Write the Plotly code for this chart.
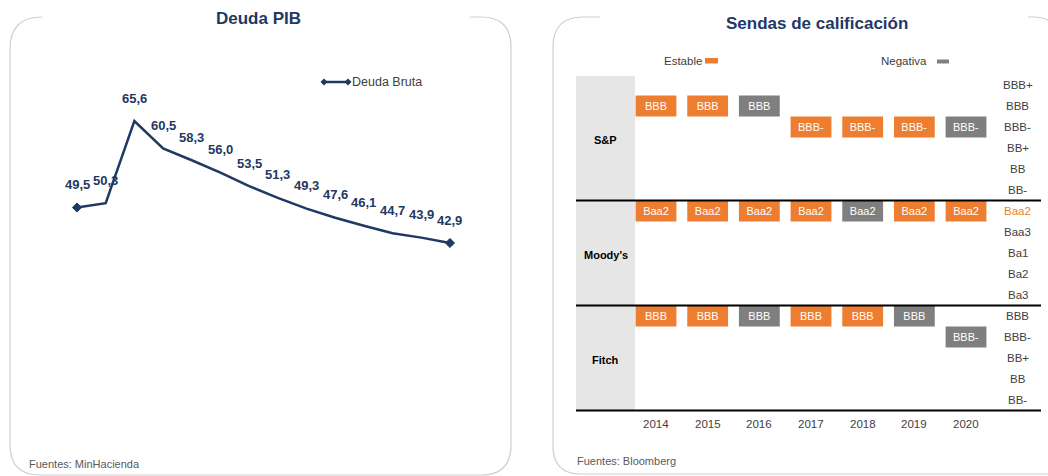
import plotly.graph_objects as go

# ---------------- DATA ----------------
deuda_periodo = list(range(14))
deuda_bruta = [49.5, 50.3, 65.6, 60.5, 58.3, 56.0, 53.5, 51.3, 49.3, 47.6, 46.1, 44.7, 43.9, 42.9]

years = [2014, 2015, 2016, 2017, 2018, 2019, 2020]
agencies = ["S&P", "Moody's", "Fitch"]
scale_sp = ["BBB+", "BBB", "BBB-", "BB+", "BB", "BB-"]
scale_moodys = ["Baa2", "Baa3", "Ba1", "Ba2", "Ba3"]
scale_fitch = ["BBB", "BBB-", "BB+", "BB", "BB-"]
rating_sp = ["BBB", "BBB", "BBB", "BBB-", "BBB-", "BBB-", "BBB-"]
outlook_sp = ["Estable", "Estable", "Negativa", "Estable", "Estable", "Estable", "Negativa"]
rating_moodys = ["Baa2", "Baa2", "Baa2", "Baa2", "Baa2", "Baa2", "Baa2"]
outlook_moodys = ["Estable", "Estable", "Estable", "Estable", "Negativa", "Estable", "Estable"]
rating_fitch = ["BBB", "BBB", "BBB", "BBB", "BBB", "BBB", "BBB-"]
outlook_fitch = ["Estable", "Estable", "Negativa", "Estable", "Estable", "Negativa", "Negativa"]
highlighted = {"Moody's": "Baa2"}

# ---------------- STYLE / LAYOUT HELPERS ----------------
W, H = 1048, 476
FONT = "Liberation Sans, Arial, sans-serif"
NAVY = "#1F3864"
ORANGE = "#ED7D31"
GRAY = "#7F7F7F"
TXT = "#404040"

def fx(px):
    return px / W

def fy(py):
    return 1 - py / H

def rng(p_lo, p_hi, p0, v0, s):
    return [v0 + (p_lo - p0) / s, v0 + (p_hi - p0) / s]

fig = go.Figure()

# ---------------- LEFT: Deuda PIB ----------------
X1_PX = (20, 500)
Y1_PX = (40, 440)
x1_range = rng(X1_PX[0], X1_PX[1], 77, 0, 28.69)
y1_range = rng(Y1_PX[1], Y1_PX[0], 243, 42.9, -5.374)

msize = [0] * len(deuda_bruta)
msize[0] = 7
msize[-1] = 7
fig.add_trace(go.Scatter(
    x=deuda_periodo, y=deuda_bruta, mode="lines+markers",
    line=dict(color=NAVY, width=2.5),
    marker=dict(symbol="diamond", size=msize, color=NAVY, opacity=1,
                line=dict(color=NAVY, width=1)),
    xaxis="x", yaxis="y", showlegend=False, hoverinfo="skip",
))
annotations = []
for xi, v in zip(deuda_periodo, deuda_bruta):
    annotations.append(dict(
        x=xi, y=v, xref="x", yref="y", text="<b>" + f"{v:.1f}".replace(".", ",") + "</b>",
        showarrow=False, yshift=23, font=dict(family=FONT, size=13, color=NAVY),
    ))

# ---------------- RIGHT: Sendas de calificacion ----------------
scales = {"S&P": scale_sp, "Moody's": scale_moodys, "Fitch": scale_fitch}
ratings = {"S&P": rating_sp, "Moody's": rating_moodys, "Fitch": rating_fitch}
outlooks = {"S&P": outlook_sp, "Moody's": outlook_moodys, "Fitch": outlook_fitch}

offsets = {}
off = 0
for a in agencies:
    offsets[a] = off
    off += len(scales[a])
n_slots = off

X2_PX = (560, 1046)
Y2_PX = (50, 440)
x2_range = rng(X2_PX[0], X2_PX[1], 656, 2014, 51.67)
y2_range = rng(Y2_PX[1], Y2_PX[0], 85, 0, 21)

bars = {"Estable": dict(x=[], base=[], y=[], text=[]), "Negativa": dict(x=[], base=[], y=[], text=[])}
for a in agencies:
    for yr, r, o in zip(years, ratings[a], outlooks[a]):
        k = offsets[a] + scales[a].index(r)
        b = bars[o]
        b["x"].append(yr)
        b["base"].append(k - 0.5)
        b["y"].append(1)
        b["text"].append(r)

for o, col in (("Estable", ORANGE), ("Negativa", GRAY)):
    b = bars[o]
    fig.add_trace(go.Bar(
        x=b["x"], y=b["y"], base=b["base"], text=b["text"], name=o,
        marker=dict(color=col, line=dict(width=0)), width=0.79,
        textposition="inside", insidetextanchor="middle", textangle=0,
        textfont=dict(family=FONT, size=11, color="white"),
        constraintext="none",
        xaxis="x2", yaxis="y2", showlegend=False, hoverinfo="skip",
    ))

shapes = []
x_left = 2014 + (576 - 656) / 51.67
x_col = 2014 + (635 - 656) / 51.67
x_right = 2014 + (1041 - 656) / 51.67
x_scale = years[-1] + 1
x_label = (x_left + x_col) / 2

shapes.append(dict(type="rect", xref="x2", yref="y2", x0=x_left, x1=x_col,
                   y0=-0.43, y1=n_slots - 0.5, fillcolor="#E6E6E6",
                   line=dict(width=0), layer="below"))
for a in agencies:
    yb = offsets[a] + len(scales[a]) - 0.5
    shapes.append(dict(type="line", xref="x2", yref="y2", x0=x_left, x1=x_right,
                       y0=yb, y1=yb, line=dict(color="black", width=2)))
    mid = offsets[a] + (len(scales[a]) - 1) / 2 + 0.1
    annotations.append(dict(x=x_label, y=mid, xref="x2", yref="y2", text=f"<b>{a}</b>",
                            showarrow=False, font=dict(family=FONT, size=11, color="black")))
    for j, lab in enumerate(scales[a]):
        col = ORANGE if highlighted.get(a) == lab else TXT
        annotations.append(dict(x=x_scale, y=offsets[a] + j, xref="x2", yref="y2", text=lab,
                                showarrow=False, font=dict(family=FONT, size=11.5, color=col)))

for yr in years:
    annotations.append(dict(x=yr, y=n_slots + 0.15, xref="x2", yref="y2", text=str(yr),
                            showarrow=False, font=dict(family=FONT, size=11.5, color=TXT)))

# ---------------- DECORATION (paper) ----------------
def P(px, py):
    return f"{fx(px):.5f},{fy(py):.5f}"

BORDER = dict(color="#CFCFCF", width=1.2)
left_path = ("M" + P(42, 17) + " Q" + P(10, 17) + " " + P(10, 49) + " L" + P(10, 445) +
             " Q" + P(10, 475) + " " + P(40, 475) + " L" + P(481, 475) + " Q" + P(511, 475) + " " + P(511, 445) +
             " L" + P(511, 47) + " Q" + P(511, 17) + " " + P(481, 17) + " L" + P(470, 17))
shapes.append(dict(type="path", xref="paper", yref="paper", path=left_path, line=BORDER))
right_path = ("M" + P(600, 17) + " L" + P(583, 17) + " Q" + P(553, 17) + " " + P(553, 47) +
              " L" + P(553, 446) + " Q" + P(553, 474) + " " + P(581, 474) + " L" + P(1060, 474))
shapes.append(dict(type="path", xref="paper", yref="paper", path=right_path, line=BORDER))
right_top = "M" + P(1028, 17) + " L" + P(1033, 17) + " Q" + P(1060, 17) + " " + P(1060, 45)
shapes.append(dict(type="path", xref="paper", yref="paper", path=right_top, line=BORDER))

# left legend: line with diamonds
shapes.append(dict(type="line", xref="paper", yref="paper", x0=fx(324), x1=fx(348),
                   y0=fy(82), y1=fy(82), line=dict(color=NAVY, width=2.5)))
for cx in (324, 348):
    d = ("M" + P(cx, 78.5) + " L" + P(cx + 3.5, 82) + " L" + P(cx, 85.5) + " L" + P(cx - 3.5, 82) + " Z")
    shapes.append(dict(type="path", xref="paper", yref="paper", path=d,
                       fillcolor=NAVY, line=dict(color=NAVY, width=0)))
annotations.append(dict(x=fx(350), y=fy(82), xref="paper", yref="paper", text="Deuda Bruta",
                        xanchor="left", yanchor="middle", showarrow=False,
                        font=dict(family=FONT, size=12.5, color=TXT)))

# right legend
annotations.append(dict(x=fx(704), y=fy(61), xref="paper", yref="paper", text="Estable",
                        xanchor="right", yanchor="middle", showarrow=False,
                        font=dict(family=FONT, size=11.5, color=TXT)))
shapes.append(dict(type="rect", xref="paper", yref="paper", x0=fx(705), x1=fx(718),
                   y0=fy(63.5), y1=fy(58), fillcolor=ORANGE, line=dict(width=0)))
annotations.append(dict(x=fx(929), y=fy(61), xref="paper", yref="paper", text="Negativa",
                        xanchor="right", yanchor="middle", showarrow=False,
                        font=dict(family=FONT, size=11.5, color=TXT)))
shapes.append(dict(type="rect", xref="paper", yref="paper", x0=fx(937), x1=fx(949),
                   y0=fy(63.5), y1=fy(59.5), fillcolor=GRAY, line=dict(width=0)))

# titles
annotations.append(dict(x=fx(258), y=fy(19), xref="paper", yref="paper", text="<b>Deuda PIB</b>",
                        xanchor="center", yanchor="middle", showarrow=False,
                        font=dict(family=FONT, size=17, color=NAVY)))
annotations.append(dict(x=fx(817), y=fy(23), xref="paper", yref="paper",
                        text="<b>Sendas de calificación</b>",
                        xanchor="center", yanchor="middle", showarrow=False,
                        font=dict(family=FONT, size=17, color=NAVY)))
# sources
annotations.append(dict(x=fx(27), y=fy(464), xref="paper", yref="paper", text="Fuentes: MinHacienda",
                        xanchor="left", yanchor="middle", showarrow=False,
                        font=dict(family=FONT, size=11, color="#595959")))
annotations.append(dict(x=fx(575), y=fy(461), xref="paper", yref="paper", text="Fuentes: Bloomberg",
                        xanchor="left", yanchor="middle", showarrow=False,
                        font=dict(family=FONT, size=11, color="#595959")))

hidden = dict(visible=False, showgrid=False, zeroline=False, fixedrange=True)
fig.update_layout(
    width=W, height=H, margin=dict(l=0, r=0, t=0, b=0),
    paper_bgcolor="white", plot_bgcolor="rgba(0,0,0,0)",
    barmode="overlay", showlegend=False,
    xaxis=dict(domain=[fx(X1_PX[0]), fx(X1_PX[1])], range=x1_range, **hidden),
    yaxis=dict(domain=[fy(Y1_PX[1]), fy(Y1_PX[0])], range=y1_range, **hidden),
    xaxis2=dict(domain=[fx(X2_PX[0]), fx(X2_PX[1])], range=x2_range, anchor="y2", **hidden),
    yaxis2=dict(domain=[fy(Y2_PX[1]), fy(Y2_PX[0])], range=y2_range, anchor="x2", **hidden),
    shapes=shapes, annotations=annotations,
    font=dict(family=FONT),
)

fig.write_html("out.html", config={"displayModeBar": False},
               post_script="document.body.style.margin='0';")
